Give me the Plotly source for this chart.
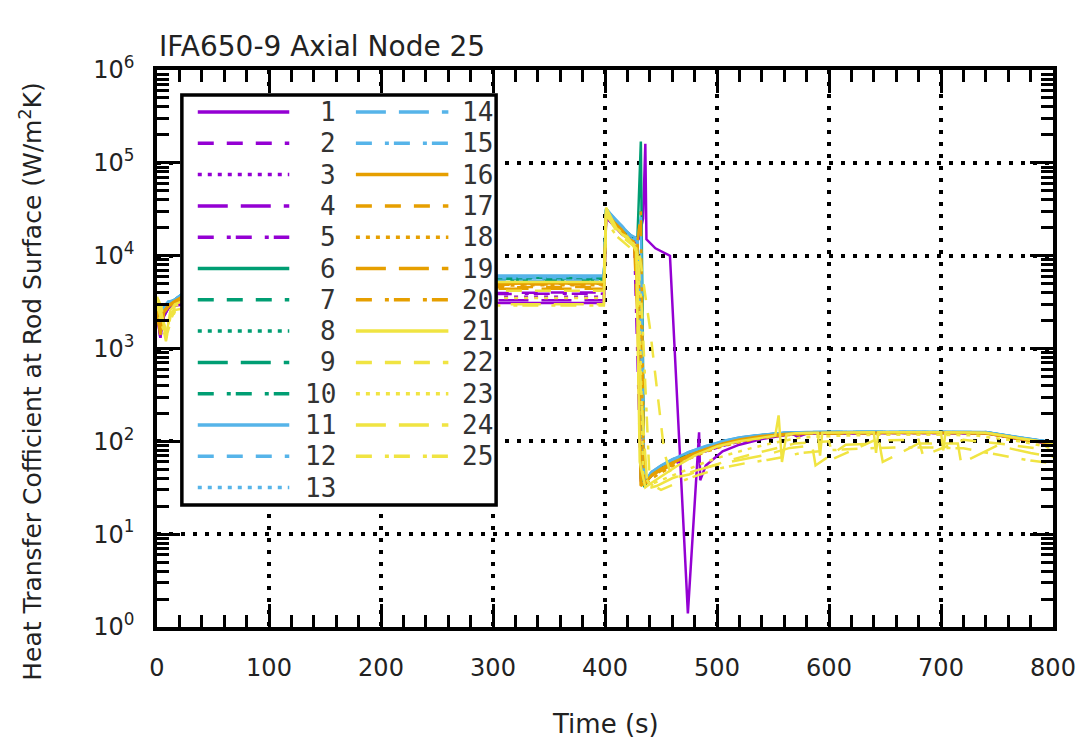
import plotly.graph_objects as go

# ---------------------------------------------------------------------------
# Heat transfer coefficient at the rod surface, IFA650-9, axial node 25
# 25 calculation cases, time in seconds, HTC in W/m^2K
# ---------------------------------------------------------------------------

CASE_LABELS = [str(i) for i in range(1, 26)]

# shared time base for cases 2-20
T_COMMON = [0, 3, 6, 10, 15, 30, 100, 200, 300, 350, 399, 401, 408, 415, 422, 426,
            429, 432, 435, 438, 442, 450, 460, 475, 490, 505, 520, 540, 560, 580,
            620, 660, 700, 740, 770, 800]

T_01 = [0, 3, 6, 10, 15, 30, 100, 200, 300, 350, 399, 401, 408, 415, 422, 426, 430,
        434, 436, 437, 445, 458, 474, 484, 485, 490, 505, 520, 540, 560, 566, 572,
        580, 620, 660, 700, 740, 770, 800]
HTC_01 = [2.4e3, 1.3e3, 2.2e3, 2.7e3, 2.9e3, 3.0e3, 3.1e3, 3.1e3, 3.1e3, 3.1e3, 3.1e3,
          2.6e4, 2.1e4, 1.7e4, 1.5e4, 1.4e4, 1.5e4, 2.5e4, 1.6e5, 1.5e4, 1.2e4, 1.0e4,
          1.4, 125, 38, 55, 78, 92, 106, 116, 124, 112, 121, 123, 123, 123, 122, 106, 93]

HTC_02 = [2.6e3, 1.5e3, 2.4e3, 2.9e3, 3.2e3, 3.6e3, 3.8e3, 3.9e3, 4.0e3, 4.0e3, 4.0e3,
          2.9e4, 2.3e4, 1.9e4, 1.6e4, 1.5e4, 1.6e4, 4.5e2, 38, 40, 44, 50, 58, 69, 80,
          91, 101, 111, 119, 122, 124, 124, 124, 123, 107, 94]
HTC_03 = [2.5e3, 1.4e3, 2.3e3, 2.8e3, 3.0e3, 3.3e3, 3.5e3, 3.6e3, 3.6e3, 3.6e3, 3.6e3,
          2.7e4, 2.2e4, 1.8e4, 1.5e4, 1.4e4, 1.3e4, 60, 36, 39, 43, 49, 56, 67, 78,
          89, 99, 109, 117, 121, 123, 123, 123, 122, 106, 93]
HTC_04 = [2.4e3, 1.3e3, 2.2e3, 2.7e3, 2.9e3, 3.1e3, 3.2e3, 3.3e3, 3.3e3, 3.3e3, 3.3e3,
          2.6e4, 2.1e4, 1.7e4, 1.5e4, 1.4e4, 1.4e4, 1.2e3, 40, 42, 45, 51, 59, 70, 81,
          92, 102, 112, 119, 122, 124, 124, 124, 123, 106, 94]
HTC_05 = [2.6e3, 1.5e3, 2.5e3, 2.9e3, 3.2e3, 3.5e3, 3.7e3, 3.8e3, 3.9e3, 3.9e3, 3.9e3,
          2.8e4, 2.3e4, 1.9e4, 1.6e4, 1.5e4, 9.0e2, 37, 39, 42, 46, 52, 60, 71, 82,
          93, 103, 112, 120, 123, 124, 125, 124, 123, 107, 95]
HTC_06 = [2.8e3, 1.6e3, 2.7e3, 3.1e3, 3.3e3, 4.5e3, 5.5e3, 5.7e3, 5.8e3, 5.8e3, 5.8e3,
          3.2e4, 2.5e4, 2.0e4, 1.7e4, 1.5e4, 1.6e4, 1.7e5, 32, 38, 45, 52, 61, 74, 86,
          98, 108, 117, 123, 125, 126, 126, 126, 125, 110, 97]
HTC_07 = [2.7e3, 1.5e3, 2.6e3, 3.0e3, 3.2e3, 4.3e3, 5.2e3, 5.4e3, 5.5e3, 5.5e3, 5.5e3,
          3.1e4, 2.4e4, 2.0e4, 1.6e4, 1.5e4, 1.4e4, 80, 34, 39, 45, 52, 61, 73, 85,
          97, 107, 116, 122, 124, 125, 125, 125, 124, 109, 96]
HTC_08 = [2.7e3, 1.5e3, 2.6e3, 3.0e3, 3.2e3, 4.2e3, 5.0e3, 5.2e3, 5.3e3, 5.3e3, 5.3e3,
          3.0e4, 2.4e4, 1.9e4, 1.6e4, 1.4e4, 1.5e4, 2.5e3, 35, 38, 44, 51, 60, 72, 84,
          96, 106, 115, 121, 124, 125, 125, 125, 124, 108, 96]
HTC_09 = [2.8e3, 1.6e3, 2.7e3, 3.1e3, 3.3e3, 4.4e3, 5.3e3, 5.5e3, 5.6e3, 5.6e3, 5.6e3,
          3.1e4, 2.5e4, 2.0e4, 1.7e4, 1.5e4, 1.5e4, 40, 33, 38, 44, 52, 61, 73, 85,
          97, 107, 116, 122, 125, 126, 126, 126, 125, 109, 97]
HTC_10 = [2.7e3, 1.5e3, 2.5e3, 2.9e3, 3.2e3, 4.1e3, 4.8e3, 4.9e3, 5.0e3, 5.0e3, 5.0e3,
          2.9e4, 2.3e4, 1.9e4, 1.6e4, 1.4e4, 1.4e4, 3.0e4, 34, 38, 44, 51, 60, 72, 84,
          96, 106, 115, 121, 124, 125, 125, 125, 124, 108, 96]
HTC_11 = [2.9e3, 1.6e3, 2.8e3, 3.2e3, 3.3e3, 4.6e3, 5.8e3, 6.0e3, 6.1e3, 6.1e3, 6.1e3,
          3.2e4, 2.6e4, 2.1e4, 1.7e4, 1.6e4, 1.5e4, 2.6e4, 36, 41, 47, 55, 64, 77, 89,
          101, 110, 118, 124, 126, 127, 127, 127, 126, 111, 98]
HTC_12 = [2.8e3, 1.6e3, 2.7e3, 3.1e3, 3.3e3, 4.5e3, 5.6e3, 5.8e3, 5.9e3, 5.9e3, 5.9e3,
          3.1e4, 2.5e4, 2.0e4, 1.7e4, 1.5e4, 1.5e4, 90, 37, 41, 47, 54, 63, 76, 88,
          100, 109, 117, 123, 125, 126, 126, 126, 125, 110, 97]
HTC_13 = [2.8e3, 1.6e3, 2.7e3, 3.1e3, 3.3e3, 4.4e3, 5.4e3, 5.6e3, 5.7e3, 5.7e3, 5.7e3,
          3.0e4, 2.4e4, 2.0e4, 1.6e4, 1.5e4, 1.4e4, 1.1e3, 38, 42, 47, 54, 63, 76, 88,
          99, 109, 117, 123, 125, 126, 126, 126, 125, 110, 97]
HTC_14 = [2.9e3, 1.6e3, 2.8e3, 3.2e3, 3.3e3, 4.5e3, 5.7e3, 5.9e3, 6.0e3, 6.0e3, 6.0e3,
          3.2e4, 2.5e4, 2.1e4, 1.7e4, 1.5e4, 1.5e4, 55, 36, 41, 47, 55, 64, 77, 89,
          100, 110, 118, 124, 126, 127, 127, 127, 126, 110, 98]
HTC_15 = [2.7e3, 1.5e3, 2.6e3, 3.0e3, 3.2e3, 4.3e3, 5.2e3, 5.3e3, 5.4e3, 5.4e3, 5.4e3,
          3.0e4, 2.4e4, 1.9e4, 1.6e4, 1.4e4, 1.4e4, 2.0e3, 37, 40, 46, 53, 62, 75, 87,
          99, 108, 116, 122, 125, 125, 125, 125, 124, 109, 96]
HTC_16 = [2.6e3, 1.5e3, 2.5e3, 2.9e3, 3.2e3, 4.1e3, 4.8e3, 4.9e3, 5.0e3, 5.0e3, 5.0e3,
          2.9e4, 2.3e4, 1.9e4, 1.5e4, 1.4e4, 4.0e3, 33, 35, 39, 44, 51, 59, 71, 83,
          95, 105, 114, 120, 123, 124, 124, 124, 123, 107, 95]
HTC_17 = [2.5e3, 1.4e3, 2.4e3, 2.8e3, 3.1e3, 3.9e3, 4.4e3, 4.5e3, 4.6e3, 4.6e3, 4.6e3,
          2.8e4, 2.2e4, 1.8e4, 1.5e4, 1.3e4, 1.3e4, 70, 34, 37, 42, 48, 56, 68, 80,
          91, 101, 110, 117, 121, 123, 123, 123, 122, 106, 94]
HTC_18 = [2.5e3, 1.4e3, 2.4e3, 2.8e3, 3.1e3, 4.0e3, 4.6e3, 4.7e3, 4.8e3, 4.8e3, 4.8e3,
          2.8e4, 2.3e4, 1.8e4, 1.5e4, 1.4e4, 1.4e4, 1.5e3, 36, 36, 40, 46, 54, 65, 77,
          88, 98, 108, 116, 120, 122, 122, 122, 121, 105, 93]
HTC_19 = [2.5e3, 1.4e3, 2.4e3, 2.8e3, 3.1e3, 3.8e3, 4.3e3, 4.4e3, 4.4e3, 4.4e3, 4.4e3,
          2.7e4, 2.2e4, 1.8e4, 1.5e4, 1.3e4, 2.0e3, 35, 36, 39, 43, 50, 58, 70, 82,
          93, 103, 112, 119, 122, 124, 124, 124, 123, 107, 94]
HTC_20 = [2.6e3, 1.5e3, 2.5e3, 2.9e3, 3.2e3, 4.0e3, 4.7e3, 4.8e3, 4.9e3, 4.9e3, 4.9e3,
          2.9e4, 2.3e4, 1.9e4, 1.5e4, 1.4e4, 1.4e4, 3.0e4, 36, 38, 43, 49, 57, 69, 81,
          92, 102, 111, 118, 122, 123, 123, 123, 122, 106, 94]

T_21 = [0, 4, 8, 12, 16, 30, 100, 200, 300, 350, 399, 401, 405, 410, 415, 420, 425,
        428, 431, 436, 442, 450, 465, 480, 500, 520, 540, 552, 555, 558, 562, 570,
        590, 592, 594, 620, 640, 642, 644, 670, 700, 702, 704, 740, 770, 800]
HTC_21 = [3.4e3, 2.4e3, 1.3e3, 2.6e3, 3.0e3, 3.5e3, 4.8e3, 5.1e3, 5.2e3, 5.2e3, 5.2e3,
          3.3e4, 2.6e4, 2.0e4, 1.7e4, 1.6e4, 1.3e4, 1.1e4, 60, 32, 36, 42, 55, 70, 88,
          100, 110, 115, 190, 60, 118, 122, 124, 70, 124, 125, 125, 75, 125, 125, 125,
          80, 125, 124, 108, 96]

T_22 = [0, 4, 8, 12, 16, 30, 100, 200, 300, 350, 399, 401, 406, 412, 418, 424, 430,
        440, 453, 460, 475, 490, 510, 530, 550, 570, 600, 604, 640, 680, 684, 720,
        760, 800]
HTC_22 = [3.0e3, 2.0e3, 1.2e3, 2.2e3, 2.8e3, 3.2e3, 4.0e3, 4.2e3, 4.2e3, 4.2e3, 4.2e3,
          2.9e4, 2.3e4, 1.8e4, 1.6e4, 1.4e4, 1.2e4, 1.7e3, 75, 40, 44, 52, 62, 72, 82,
          95, 100, 65, 102, 104, 70, 104, 92, 80]

T_23 = [0, 4, 8, 12, 16, 30, 100, 200, 300, 350, 399, 401, 407, 414, 421, 427, 430,
        434, 440, 450, 470, 490, 510, 530, 550, 575, 610, 650, 690, 730, 770, 800]
HTC_23 = [2.8e3, 1.8e3, 1.4e3, 2.4e3, 2.9e3, 3.1e3, 3.4e3, 3.5e3, 3.5e3, 3.5e3, 3.5e3,
          2.7e4, 2.2e4, 1.8e4, 1.5e4, 1.3e4, 9.0e3, 45, 34, 38, 48, 60, 72, 84, 96,
          110, 115, 118, 118, 116, 100, 85]

T_24 = [0, 4, 8, 12, 16, 30, 100, 200, 300, 350, 399, 401, 406, 412, 418, 424, 428,
        432, 438, 446, 460, 480, 500, 520, 545, 565, 585, 588, 615, 645, 648, 680,
        715, 718, 750, 780, 800]
HTC_24 = [3.2e3, 2.2e3, 1.6e3, 2.0e3, 2.6e3, 2.8e3, 2.9e3, 3.0e3, 3.0e3, 3.0e3, 3.0e3,
          2.8e4, 2.2e4, 1.7e4, 1.5e4, 1.3e4, 1.2e4, 3.5e2, 31, 33, 40, 48, 56, 63, 72,
          85, 90, 55, 92, 95, 60, 95, 95, 58, 90, 75, 68]

T_25 = [0, 4, 8, 12, 16, 30, 100, 200, 300, 350, 399, 401, 405, 411, 417, 423, 429,
        433, 440, 450, 465, 485, 505, 525, 545, 560, 575, 600, 630, 660, 690, 720,
        750, 780, 800]
HTC_25 = [3.6e3, 2.8e3, 1.3e3, 1.9e3, 2.5e3, 2.7e3, 2.8e3, 2.9e3, 2.9e3, 2.9e3, 2.9e3,
          2.5e4, 2.0e4, 1.6e4, 1.4e4, 1.2e4, 1.1e4, 2.5e3, 35, 30, 36, 44, 52, 58, 63,
          68, 75, 80, 84, 86, 86, 84, 72, 62, 58]

TIMES = [T_01] + [T_COMMON] * 19 + [T_21, T_22, T_23, T_24, T_25]
HTC = [HTC_01, HTC_02, HTC_03, HTC_04, HTC_05, HTC_06, HTC_07, HTC_08, HTC_09, HTC_10,
       HTC_11, HTC_12, HTC_13, HTC_14, HTC_15, HTC_16, HTC_17, HTC_18, HTC_19, HTC_20,
       HTC_21, HTC_22, HTC_23, HTC_24, HTC_25]

# axis ticks
X_TICKS = [0, 100, 200, 300, 400, 500, 600, 700, 800]
X_TICK_TEXT = ["0", "100", "200", "300", "400", "500", "600", "700", "800"]
Y_TICKS = [1, 10, 100, 1e3, 1e4, 1e5, 1e6]
Y_TICK_TEXT = ["10<sup>%d</sup>" % k for k in range(7)]

# style: one colour per group of five cases, one dash per member of a group
GROUP_COLORS = ["#9400d3", "#009e73", "#56b4e9", "#e69f00", "#f0e442"]
DASHES = ["solid", "16px,13px", "4px,6px", "30px,13px", "16px,13px,4px,5px"]

# plot-area geometry (pixels)
W, H = 1088, 744
PL, PR, PT, PB = 157, 1058, 70, 627


def px_x(p):
    return (p - PL) / (PR - PL)


def px_y(p):
    return (PB - p) / (PB - PT)


fig = go.Figure()
for i, (t, v) in enumerate(zip(TIMES, HTC)):
    fig.add_trace(go.Scatter(
        x=t, y=v, mode="lines", name=CASE_LABELS[i], showlegend=False,
        line=dict(color=GROUP_COLORS[i // 5], dash=DASHES[i % 5], width=2.5),
    ))

# minor tick positions
x_minor = [x for x in range(0, 801, 20) if x % 100]
y_minor = [m * 10 ** k for k in range(6) for m in range(2, 10)]

axis_common = dict(
    showline=True, linecolor="black", linewidth=3.5, mirror="ticks",
    ticks="inside", ticklen=23, tickwidth=2.5, tickcolor="black",
    showgrid=True, gridcolor="black", gridwidth=4, griddash="4px,8px",
    zeroline=False, tickfont=dict(family="DejaVu Sans", size=24, color="#222"),
)

fig.update_xaxes(
    range=[0, 800], tickmode="array", tickvals=X_TICKS, ticktext=X_TICK_TEXT,
    minor=dict(tickmode="array", tickvals=x_minor, ticks="inside", ticklen=12,
               tickwidth=2.5, tickcolor="black", showgrid=False),
    ticklabelstandoff=16, **axis_common,
)
fig.update_yaxes(
    type="log", range=[0, 6], tickmode="array", tickvals=Y_TICKS, ticktext=Y_TICK_TEXT,
    minor=dict(tickmode="array", tickvals=y_minor, ticks="inside", ticklen=12,
               tickwidth=2.5, tickcolor="black", showgrid=False),
    ticklabelstandoff=14, **axis_common,
)

# key: boxed two-column list, cases 1-13 on the left, 14-25 on the right
shapes = [dict(type="rect", xref="paper", yref="paper", layer="above",
               x0=px_x(182), x1=px_x(498), y0=px_y(505), y1=px_y(95),
               fillcolor="white", line=dict(color="black", width=3.5))]
annotations = []
COL_LINE = [(198, 290), (357, 450)]
COL_TEXT = [339, 497]
ROW0, ROW_STEP = 112, 31.3
for i, label in enumerate(CASE_LABELS):
    col, row = (0, i) if i < 13 else (1, i - 13)
    yy = px_y(ROW0 + ROW_STEP * row)
    x0, x1 = COL_LINE[col]
    shapes.append(dict(type="line", xref="paper", yref="paper", layer="above",
                       x0=px_x(x0), x1=px_x(x1), y0=yy, y1=yy,
                       line=dict(color=GROUP_COLORS[i // 5], dash=DASHES[i % 5], width=3.5)))
    annotations.append(dict(text=label, xref="paper", yref="paper", x=px_x(COL_TEXT[col]),
                            y=yy, xanchor="right", yanchor="middle", showarrow=False,
                            font=dict(family="DejaVu Sans Mono", size=26, color="#333")))

annotations += [
    dict(text="IFA650-9 Axial Node 25", xref="paper", yref="paper", x=0, y=px_y(47),
         xanchor="left", yanchor="middle", showarrow=False,
         font=dict(family="DejaVu Sans", size=28, color="#222")),
    dict(text="Heat Transfer Cofficient at Rod Surface (W/m<sup>2</sup>K)",
         xref="paper", yref="paper", x=px_x(30), y=px_y(382), textangle=-90,
         xanchor="center", yanchor="middle", showarrow=False,
         font=dict(family="DejaVu Sans", size=25, color="#222")),
    dict(text="Time (s)", xref="paper", yref="paper", x=px_x(608), y=px_y(724),
         xanchor="center", yanchor="middle", showarrow=False,
         font=dict(family="DejaVu Sans", size=26, color="#222")),
]

fig.update_layout(
    width=W, height=H, margin=dict(l=PL, r=W - PR, t=PT, b=H - PB),
    paper_bgcolor="white", plot_bgcolor="white", showlegend=False,
    shapes=shapes, annotations=annotations,
)

fig.write_html("out.html")
